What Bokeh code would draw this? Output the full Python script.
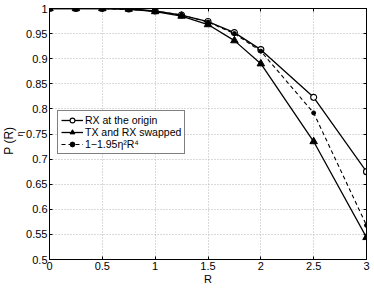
from bokeh.plotting import figure
from bokeh.models import FixedTicker, Title, LinearAxis, Legend, CustomLabelingPolicy
from bokeh.embed import file_html
from bokeh.resources import INLINE

R = [0, 0.25, 0.5, 0.75, 1, 1.25, 1.5, 1.75, 2, 2.5, 3]
rx_origin = [1.0, 1.0, 1.0, 0.999, 0.995, 0.987, 0.974, 0.952, 0.918, 0.823, 0.675]
tx_swapped = [1.0, 1.0, 1.0, 0.999, 0.994, 0.985, 0.968, 0.936, 0.890, 0.735, 0.544]
approx = [1.0, 1.0, 1.0, 0.998, 0.995, 0.987, 0.973, 0.950, 0.915, 0.792, 0.568]

x_ticks = [0, 0.5, 1, 1.5, 2, 2.5, 3]
x_tick_labels = ["0", "0.5", "1", "1.5", "2", "2.5", "3"]
y_ticks = [0.5, 0.55, 0.6, 0.65, 0.7, 0.75, 0.8, 0.85, 0.9, 0.95, 1.0]
y_tick_labels = ["0.5", "0.55", "0.6", "0.65", "0.7", "0.75", "0.8", "0.85", "0.9", "0.95", "1"]

FONT = "Liberation Sans"

p = figure(width=374, height=288, output_backend="svg", toolbar_location=None,
           x_range=(0, 3), y_range=(0.5, 1.0),
           min_border_left=49, min_border_right=8, min_border_top=8, min_border_bottom=29)
p.background_fill_color = "white"
p.border_fill_color = "white"
p.outline_line_color = "black"
p.outline_line_width = 1

for ax in (p.xaxis[0], p.yaxis[0]):
    ax.major_tick_in = 3
    ax.major_tick_out = 0
    ax.minor_tick_in = 0
    ax.minor_tick_out = 0
    ax.axis_line_color = "black"
    ax.major_label_text_font = FONT
    ax.major_label_text_font_size = "11px"
    ax.major_label_text_color = "black"
    ax.axis_label_text_font = FONT
    ax.axis_label_text_font_style = "normal"
    ax.axis_label_text_font_size = "11px"
    ax.axis_label_text_color = "black"

p.xaxis[0].ticker = FixedTicker(ticks=x_ticks)
p.xaxis[0].major_label_overrides = dict(zip(x_ticks, x_tick_labels))
p.xaxis[0].major_label_standoff = 2
p.xaxis[0].axis_label = "R"
p.xaxis[0].axis_label_standoff = 0
p.yaxis[0].ticker = FixedTicker(ticks=y_ticks)
p.yaxis[0].major_label_overrides = dict(zip(y_ticks, y_tick_labels))
p.yaxis[0].major_label_standoff = 2

hide = "for (const i of indices) indices.unset(i); return indices"
for loc in ("right", "above"):
    a = LinearAxis(ticker=FixedTicker(ticks=(y_ticks if loc == "right" else x_ticks)),
                   major_tick_in=3, major_tick_out=0, minor_tick_in=0, minor_tick_out=0,
                   major_label_policy=CustomLabelingPolicy(code=hide),
                   major_label_text_font_size="0px", major_label_standoff=0,
                   axis_line_color="black")
    p.add_layout(a, loc)

p.xgrid.ticker = FixedTicker(ticks=x_ticks)
p.ygrid.ticker = FixedTicker(ticks=y_ticks)
for g in (p.xgrid[0], p.ygrid[0]):
    g.grid_line_color = "#b4b4b4"
    g.grid_line_dash = "1 2"
    g.grid_line_width = 1

l1 = p.line(R, rx_origin, line_color="black", line_width=1.3)
m1 = p.scatter(R, rx_origin, marker="circle", size=6, fill_color="white", line_color="black", line_width=1.1)
l2 = p.line(R, tx_swapped, line_color="black", line_width=1.3)
m2 = p.scatter(R, tx_swapped, marker="triangle", size=7.5, fill_color="black", line_color="black")
l3 = p.line(R, approx, line_color="black", line_width=1.1, line_dash="4 3")
m3 = p.scatter(R, approx, marker="circle", size=4, fill_color="black", line_color="black")

legend = Legend(items=[("RX at the origin", [l1, m1]),
                       ("TX and RX swapped", [l2, m2]),
                       ("1\u22121.95\u03b7\u00b2R\u2074", [l3, m3])],
                location=(8, 105))
legend.label_text_font = FONT
legend.label_text_font_size = "10.5px"
legend.label_text_color = "black"
legend.label_height = 12
legend.glyph_height = 12
legend.glyph_width = 22
legend.spacing = 0
legend.padding = 3
legend.margin = 0
legend.label_standoff = 2
legend.border_line_color = "black"
legend.border_line_width = 1
legend.background_fill_alpha = 1
p.add_layout(legend, "center")

# y-axis label: P_eta (R), built from two vertical titles (subscript closer to the axis)
p.add_layout(Title(text="\u03b7", align="center", offset=-6, standoff=-3,
                   text_font=FONT, text_font_size="8.5px", text_font_style="normal",
                   text_color="black"), "left")
p.add_layout(Title(text="P     (R)", align="center", offset=-4, standoff=-2,
                   text_font=FONT, text_font_size="12px", text_font_style="normal",
                   text_color="black"), "left")

open("out.html", "w").write(file_html(p, INLINE))
